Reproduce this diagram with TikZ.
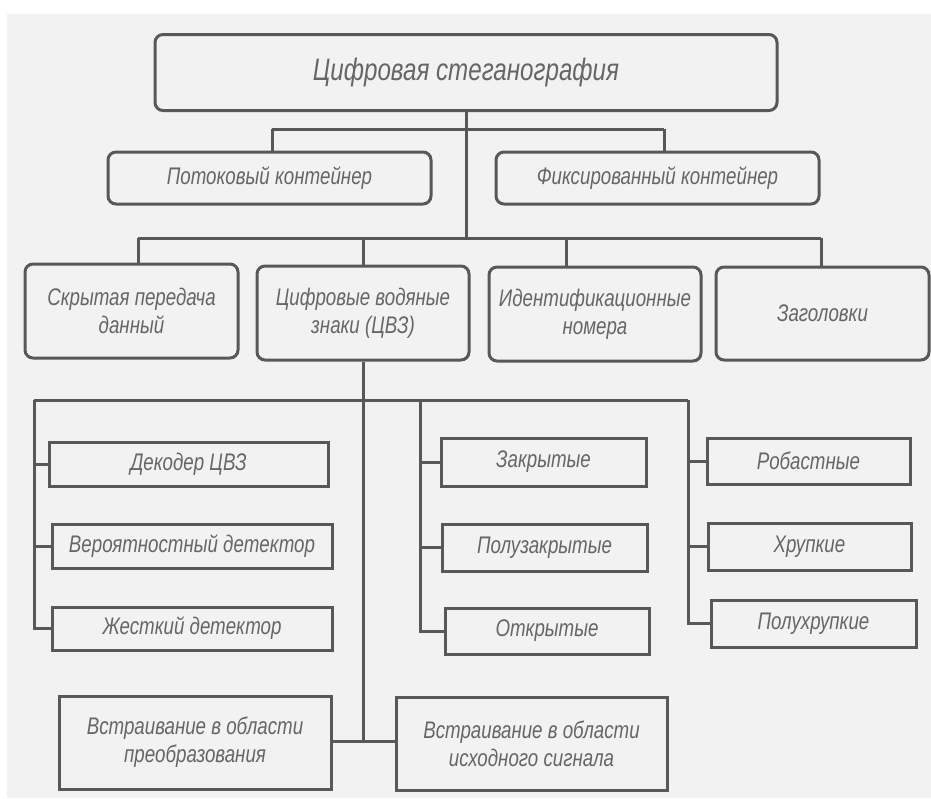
\documentclass[tikz,border=0pt]{standalone}
\usepackage{fontspec}
\setmainfont{Liberation Sans}[FakeStretch=0.78]
\usetikzlibrary{calc}
\definecolor{bg}{HTML}{F2F2F2}
\definecolor{ln}{HTML}{585858}
\definecolor{tx}{HTML}{666666}
\begin{document}
\begin{tikzpicture}[x=1pt,y=-1pt,
  base/.style={draw=ln,line width=3pt,text=tx,align=center,inner sep=0pt,font=\itshape\fontsize{24}{28}\selectfont},
  rbox/.style={base,rounded corners=8pt},
  sbox/.style={base},
  wire/.style={draw=ln,line width=3pt}]
\useasboundingbox (0,0) rectangle (931,798);
\fill[white] (0,0) rectangle (931,798);
\fill[bg] (7,14) rectangle (931,798);
% top
\node[rbox,minimum width=622pt,minimum height=76pt,font=\itshape\fontsize{31}{36}\selectfont] (top) at (466,72.5) {Цифровая стеганография};
\node[rbox,minimum width=323pt,minimum height=52pt] (pot) at (269.5,178) {Потоковый контейнер};
\node[rbox,minimum width=323pt,minimum height=52pt] (fix) at (657.5,178) {Фиксированный контейнер};
% row 3
\node[rbox,minimum width=213pt,minimum height=94pt] (skr) at (131.5,311) {Скрытая передача\\данный};
\node[rbox,minimum width=212pt,minimum height=94pt] (cvz) at (363,313) {Цифровые водяные\\знаки (ЦВЗ)};
\node[rbox,minimum width=212pt,minimum height=94pt] (idn) at (595,314) {Идентификационные\\номера};
\node[rbox,minimum width=213pt,minimum height=93pt] (zag) at (822.5,313.5) {Заголовки};
% row 4 left
\node[sbox,minimum width=279pt,minimum height=44pt] (dek) at (188.5,464) {Декодер ЦВЗ};
\node[sbox,minimum width=280pt,minimum height=44pt] (ver) at (192,546) {Вероятностный детектор};
\node[sbox,minimum width=280pt,minimum height=43pt] (zhe) at (192,628.5) {Жесткий детектор};
% row 4 middle
\node[sbox,minimum width=205pt,minimum height=48pt] (zak) at (543.5,462) {Закрытые};
\node[sbox,minimum width=205pt,minimum height=47pt] (pzk) at (544.5,547.5) {Полузакрытые};
\node[sbox,minimum width=204pt,minimum height=46pt] (otk) at (547,631) {Открытые};
% row 4 right
\node[sbox,minimum width=203pt,minimum height=46pt] (rob) at (808.5,461) {Робастные};
\node[sbox,minimum width=203pt,minimum height=47pt] (hru) at (809.5,546.5) {Хрупкие};
\node[sbox,minimum width=205pt,minimum height=47pt] (phr) at (813.5,623.5) {Полухрупкие};
% bottom
\node[sbox,minimum width=272pt,minimum height=93pt] (vs1) at (195,742.5) {Встраивание в области\\преобразования};
\node[sbox,minimum width=271pt,minimum height=93pt] (vs2) at (531.5,743.5) {Встраивание в области\\исходного сигнала};
% coordinates
\coordinate (b1) at (466,129);
\coordinate (b2) at (466,238);
\coordinate (cl) at (34,400);
\coordinate (cm) at (420,400);
\coordinate (cr) at (688,400);
\coordinate (jn) at (363,741);
% connectors
\draw[wire] (top.south -| b1) -- (b2);
\draw[wire] (272,129) coordinate (p1) -- (664,129) coordinate (p2);
\draw[wire] (p1) -- (p1 |- pot.north);
\draw[wire] (p2) -- (p2 |- fix.north);
\draw[wire] (138,238) coordinate (q1) -- (821,238) coordinate (q4);
\draw[wire] (q1) -- (q1 |- skr.north);
\draw[wire] (363,238) coordinate (q2) -- (q2 |- cvz.north);
\draw[wire] (566,238) coordinate (q3) -- (q3 |- idn.north);
\draw[wire] (q4) -- (q4 |- zag.north);
\draw[wire] (cvz.south) -- (jn);
\draw[wire] (cl) -- (cr);
\draw[wire] (cl) -- (cl |- zhe.west) -- (zhe.west);
\draw[wire] (cl |- dek.west) -- (dek.west);
\draw[wire] (cl |- ver.west) -- (ver.west);
\draw[wire] (cm) -- (cm |- otk.west) -- (otk.west);
\draw[wire] (cm |- zak.west) -- (zak.west);
\draw[wire] (cm |- pzk.west) -- (pzk.west);
\draw[wire] (cr) -- (cr |- phr.west) -- (phr.west);
\draw[wire] (cr |- rob.west) -- (rob.west);
\draw[wire] (cr |- hru.west) -- (hru.west);
\draw[wire] (vs1.east |- jn) -- (vs2.west |- jn);
\end{tikzpicture}
\end{document}
